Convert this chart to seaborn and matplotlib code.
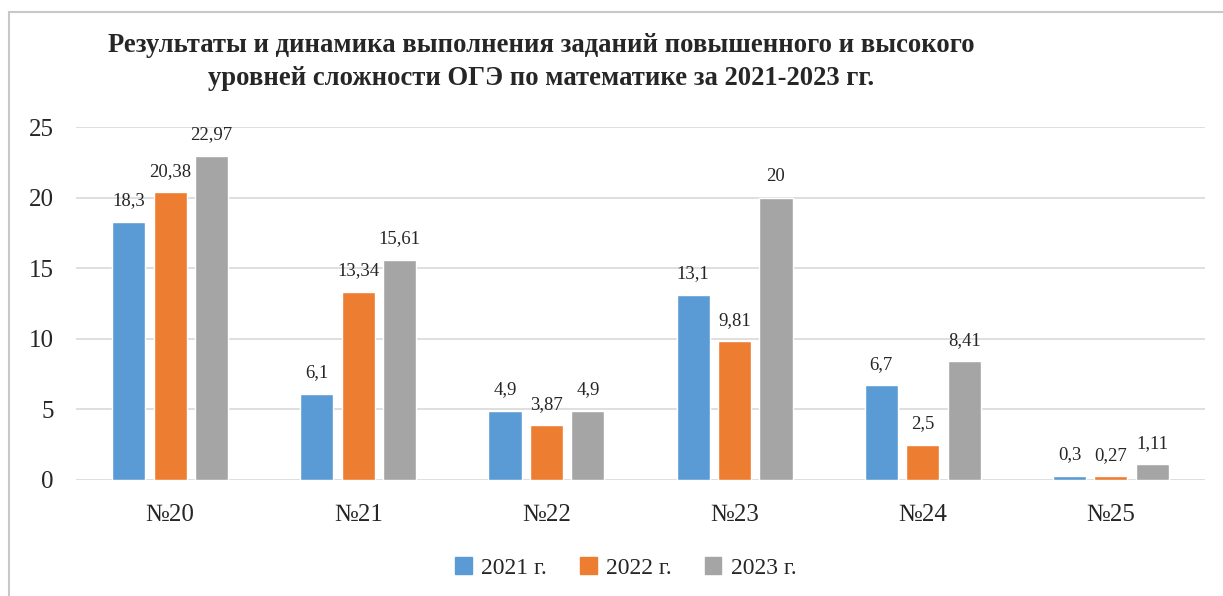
import matplotlib
matplotlib.use("Agg")
import matplotlib.pyplot as plt
import matplotlib.patches as mpatches
import seaborn as sns
import pandas as pd

# task numbers and results (%) by year
tasks = ["№20", "№21", "№22", "№23", "№24", "№25"]
years = ["2021 г.", "2022 г.", "2023 г."]
y2021 = [18.3, 6.1, 4.9, 13.1, 6.7, 0.3]
y2022 = [20.38, 13.34, 3.87, 9.81, 2.5, 0.27]
y2023 = [22.97, 15.61, 4.9, 20, 8.41, 1.11]
colors = ["#5B9BD5", "#ED7D31", "#A5A5A5"]

df = pd.DataFrame({
    "task": tasks * 3,
    "year": [years[0]] * 6 + [years[1]] * 6 + [years[2]] * 6,
    "value": y2021 + y2022 + y2023,
})

sns.set_style("white")
plt.rcParams["font.family"] = ["Liberation Serif", "DejaVu Serif"]

fig = plt.figure(figsize=(12.23, 5.96), dpi=100)
ax = fig.add_axes([76 / 1223, 1 - 480 / 596, (1205 - 76) / 1223, (480 - 127) / 596])

sns.barplot(data=df, x="task", y="value", hue="year", hue_order=years,
            palette=colors, width=0.66, gap=0.2, saturation=1, ax=ax, legend=False)

for cont in ax.containers:
    labels = [f"{v:g}".replace(".", ",") for v in cont.datavalues]
    ax.bar_label(cont, labels=labels, padding=9, fontsize=13.5)

ax.set_ylim(0, 25)
ax.set_yticks([0, 5, 10, 15, 20, 25])
ax.set_xlim(-0.5, 5.5)
ax.grid(axis="y", color="#d9d9d9", lw=1.2)
ax.set_axisbelow(True)
for s in ax.spines.values():
    s.set_visible(False)
ax.set_xlabel("")
ax.set_ylabel("")
ax.tick_params(axis="y", length=0, pad=16, labelsize=18)
ax.tick_params(axis="x", length=0, pad=17, labelsize=18)

# title
fig.text(541 / 1223, 1 - 62 / 596,
         "Результаты и динамика выполнения заданий повышенного и высокого\n"
         "уровней сложности ОГЭ по математике за 2021-2023 гг.",
         ha="center", va="center", fontsize=19.2, fontweight="bold", linespacing=1.38)

# legend
handles = [mpatches.Patch(color=c, label=y) for c, y in zip(colors, years)]
fig.legend(handles=handles, loc="center", bbox_to_anchor=(626 / 1223, 1 - 568 / 596),
           ncol=3, frameon=False, fontsize=17, handlelength=0.7, handleheight=0.7,
           handletextpad=0.4, columnspacing=1.4)

# outer chart frame
frame = mpatches.Rectangle((9 / 1223, -0.1), 1.2, 1 - 12 / 596 + 0.1,
                           transform=fig.transFigure, fill=False,
                           edgecolor="#c8c8c8", lw=1.5, clip_on=False)
fig.patches.append(frame)

fig.savefig("out.png", dpi=100)
